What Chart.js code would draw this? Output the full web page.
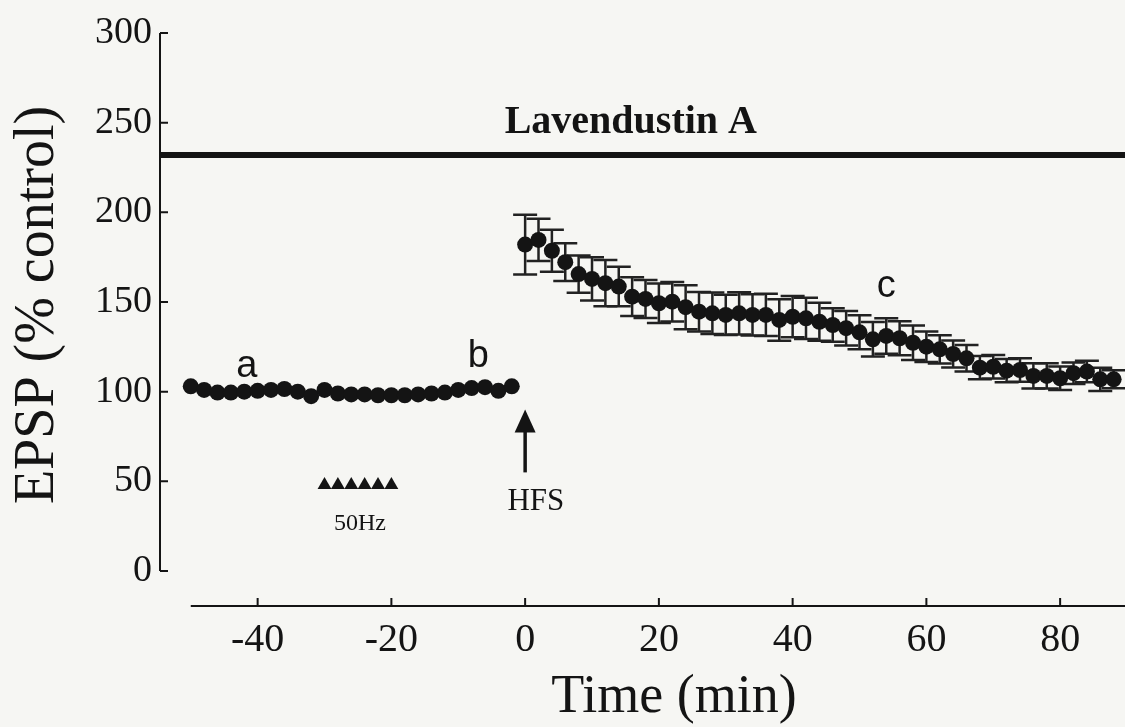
<!DOCTYPE html>
<html lang="en">
<head>
    <meta charset="UTF-8">
    <title>EPSP Lavendustin A</title>
    <style>
        html, body { margin: 0; padding: 0; background: #f6f6f3; }
        #wrap { width: 1125px; height: 727px; }
    </style>
</head>
<body>
<div id="wrap">
    <canvas id="myChart" width="1125" height="727"></canvas>
</div>

<script src="https://cdn.jsdelivr.net/npm/chart.js"></script>

<script>
    // time (min) and EPSP (% control)
    const baselineTimes = [-50, -48, -46, -44, -42, -40, -38, -36, -34, -32, -30, -28, -26,
        -24, -22, -20, -18, -16, -14, -12, -10, -8, -6, -4, -2];
    const baselineValues = [103, 101, 99.5, 99.5, 100, 100.5, 101, 101.5, 100, 97.5, 101, 99, 98.5,
        98.5, 98, 98, 98, 98.5, 99, 99.5, 101, 102, 102.5, 100.5, 103];

    const postTimes = [0, 2, 4, 6, 8, 10, 12, 14, 16, 18, 20, 22, 24, 26, 28, 30, 32, 34, 36, 38,
        40, 42, 44, 46, 48, 50, 52, 54, 56, 58, 60, 62, 64, 66, 68, 70, 72, 74, 76, 78,
        80, 82, 84, 86, 88];
    const postValues = [182, 184.6, 178.6, 172.2, 165.6, 162.9, 160.5, 158.6, 153, 151.7,
        149.3, 150.2, 147.1, 144.6, 143.7, 142.8, 143.7, 142.8, 142.8, 140,
        141.8, 140.9, 139, 137.2, 135.4, 133.1, 129.2, 131.1, 129.8, 127.3,
        125.1, 123.6, 121, 118.6, 113.4, 113.9, 111.7, 112.1, 108.8, 108.8,
        107.5, 110.3, 111.2, 106.9, 106.9];
    const postErrors = [16.7, 11.8, 11.7, 10.5, 10.4, 12, 12.9, 11, 10.8, 10.6,
        11, 11, 12.3, 11, 11.6, 11.2, 11.8, 11.5, 11.8, 11.6,
        11.5, 11.5, 10.6, 9.3, 9.6, 9.5, 9.6, 9.9, 9.5, 9.6,
        8.5, 7.9, 7.5, 7.4, 6.5, 6.5, 6.5, 6.5, 7, 7,
        6.5, 6, 6, 6.5, 5];

    // 50 Hz stimuli and drug bar
    const stimTimes = [-30, -28, -26, -24, -22, -20];
    const stimLevel = 48;
    const lavendustinLevel = 232;
    const hfsTime = 0;

    const xTicks = [-40, -20, 0, 20, 40, 60, 80];
    const yTicks = [0, 50, 100, 150, 200, 250, 300];

    const X_MIN = -54.6, X_MAX = 89.7;
    const Y_MIN = -19.5, Y_MAX = 300;

    const serif = '"Liberation Serif", "Times New Roman", serif';
    const sans = '"Liberation Sans", Arial, sans-serif';
    const ink = '#141414';

    function toPoints(xs, ys) {
        return xs.map((x, i) => ({x: x, y: ys[i]}));
    }

    const figurePlugin = {
        id: 'figure',
        beforeDraw(chart) {
            const c = chart.ctx;
            c.save();
            c.fillStyle = '#f6f6f3';
            c.fillRect(0, 0, chart.width, chart.height);
            c.restore();
        },
        beforeDatasetsDraw(chart) {
            const c = chart.ctx;
            const xs = chart.scales.x, ys = chart.scales.y;
            // error bars
            c.save();
            c.strokeStyle = '#222222';
            c.lineWidth = 2.5;
            postTimes.forEach((t, i) => {
                const px = xs.getPixelForValue(t);
                const top = ys.getPixelForValue(postValues[i] + postErrors[i]);
                const bot = ys.getPixelForValue(postValues[i] - postErrors[i]);
                c.beginPath();
                c.moveTo(px, top); c.lineTo(px, bot);
                c.moveTo(px - 12, top); c.lineTo(px + 12, top);
                c.moveTo(px - 12, bot); c.lineTo(px + 12, bot);
                c.stroke();
            });
            c.restore();
        },
        afterDatasetsDraw(chart) {
            const c = chart.ctx;
            const xs = chart.scales.x, ys = chart.scales.y;
            c.save();
            c.strokeStyle = ink;
            c.fillStyle = ink;
            c.lineWidth = 2;

            // y axis line with inward ticks
            const yx = xs.getPixelForValue(X_MIN);
            c.beginPath();
            c.moveTo(yx, ys.getPixelForValue(300));
            c.lineTo(yx, ys.getPixelForValue(0));
            yTicks.forEach(v => {
                const py = ys.getPixelForValue(v);
                c.moveTo(yx, py); c.lineTo(yx + 8, py);
            });
            c.stroke();

            // x axis line with inward ticks
            const xy = ys.getPixelForValue(Y_MIN);
            c.beginPath();
            c.moveTo(xs.getPixelForValue(-50), xy);
            c.lineTo(xs.getPixelForValue(X_MAX), xy);
            xTicks.forEach(v => {
                const px = xs.getPixelForValue(v);
                c.moveTo(px, xy); c.lineTo(px, xy - 8);
            });
            c.stroke();

            // HFS arrow
            const ax = xs.getPixelForValue(hfsTime);
            const aTop = ys.getPixelForValue(90), aBot = ys.getPixelForValue(55);
            c.lineWidth = 3.5;
            c.beginPath();
            c.moveTo(ax, aBot); c.lineTo(ax, aTop + 18);
            c.stroke();
            c.beginPath();
            c.moveTo(ax, aTop);
            c.lineTo(ax - 10.5, aTop + 23);
            c.lineTo(ax + 10.5, aTop + 23);
            c.closePath();
            c.fill();

            // texts
            c.textAlign = 'center';
            c.textBaseline = 'alphabetic';
            c.font = 'bold 40px ' + serif;
            c.fillText('Lavendustin A', xs.getPixelForValue(15.8), ys.getPixelForValue(244.3));

            c.font = '31px ' + serif;
            c.fillText('HFS', xs.getPixelForValue(1.6), ys.getPixelForValue(34));
            c.font = '24px ' + serif;
            c.fillText('50Hz', xs.getPixelForValue(-24.7), ys.getPixelForValue(23));

            c.font = '38px ' + sans;
            c.fillText('a', xs.getPixelForValue(-41.6), ys.getPixelForValue(108));
            c.fillText('b', xs.getPixelForValue(-7), ys.getPixelForValue(113.8));
            c.fillText('c', xs.getPixelForValue(54), ys.getPixelForValue(152.8));

            // axis titles
            c.font = '54px ' + serif;
            c.fillText('Time (min)', 674, 712);
            c.translate(38, 305);
            c.rotate(-Math.PI / 2);
            c.textBaseline = 'middle';
            c.font = '56px ' + serif;
            c.fillText('EPSP (% control)', 0, 0);
            c.restore();
        }
    };

    const ctx = document.getElementById('myChart');

    new Chart(ctx, {
        type: 'scatter',
        data: {
            datasets: [
                {
                    label: 'Lavendustin A',
                    data: [{x: X_MIN, y: lavendustinLevel}, {x: X_MAX, y: lavendustinLevel}],
                    showLine: true,
                    borderColor: ink,
                    borderWidth: 6,
                    pointRadius: 0
                },
                {
                    label: 'baseline',
                    data: toPoints(baselineTimes, baselineValues),
                    backgroundColor: ink,
                    borderColor: ink,
                    pointRadius: 8,
                    borderWidth: 0
                },
                {
                    label: 'after HFS',
                    data: toPoints(postTimes, postValues),
                    backgroundColor: ink,
                    borderColor: ink,
                    pointRadius: 8,
                    borderWidth: 0
                },
                {
                    label: '50Hz',
                    data: stimTimes.map(t => ({x: t, y: stimLevel})),
                    pointStyle: 'triangle',
                    backgroundColor: ink,
                    borderColor: ink,
                    pointRadius: 8,
                    borderWidth: 0
                }
            ]
        },
        options: {
            responsive: false,
            animation: false,
            layout: {autoPadding: false, padding: {left: 0, right: 0, top: 33, bottom: 0}},
            plugins: {
                legend: {display: false},
                tooltip: {enabled: false}
            },
            scales: {
                x: {
                    type: 'linear',
                    min: X_MIN,
                    max: X_MAX,
                    afterBuildTicks: s => { s.ticks = xTicks.map(v => ({value: v})); },
                    afterFit: s => { s.height = 121; },
                    grid: {display: false},
                    border: {display: false},
                    ticks: {
                        color: ink,
                        padding: 2,
                        maxRotation: 0,
                        font: {family: serif, size: 40},
                        callback: v => String(v)
                    }
                },
                y: {
                    min: Y_MIN,
                    max: Y_MAX,
                    afterBuildTicks: s => { s.ticks = yTicks.map(v => ({value: v})); },
                    afterFit: s => { s.width = 160; },
                    grid: {display: false, drawTicks: false},
                    border: {display: false},
                    ticks: {
                        color: ink,
                        padding: 8,
                        font: {family: serif, size: 38},
                        callback: v => String(v)
                    }
                }
            }
        },
        plugins: [figurePlugin]
    });
</script>

</body>
</html>
